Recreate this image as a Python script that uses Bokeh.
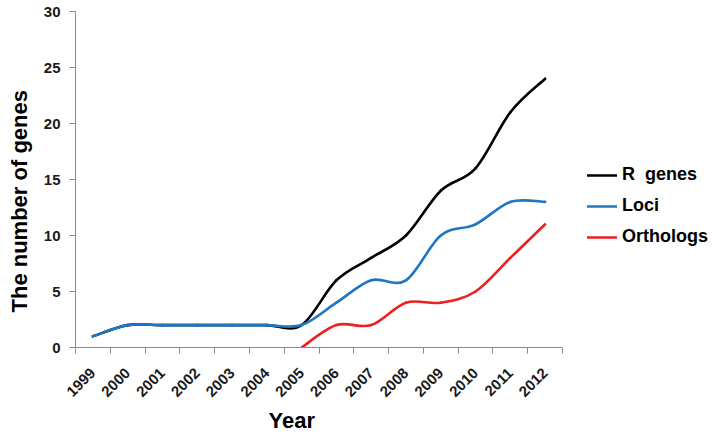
import math
from bokeh.plotting import figure
from bokeh.models import FixedTicker, Legend, LegendItem, ColumnDataSource, Range1d, Title
from bokeh.embed import file_html
from bokeh.resources import INLINE

# ---- data ----
years = ["1999", "2000", "2001", "2002", "2003", "2004", "2005",
         "2006", "2007", "2008", "2009", "2010", "2011", "2012"]
r_genes = [1, 2, 2, 2, 2, 2, 2, 6, 8, 10, 14, 16, 21, 24]
loci = [1, 2, 2, 2, 2, 2, 2, 4, 6, 6, 10, 11, 13, 13]
orthologs = [None, None, None, None, None, None, 0, 2, 2, 4, 4, 5, 8, 11]
y_ticks = [0, 5, 10, 15, 20, 25, 30]

series_names = ["R  genes", "Loci", "Orthologs"]
series_colors = ["#000000", "#1f77c4", "#ee1f1f"]
x_title = "Year"
y_title = "The number of genes"

FONT = "Liberation Sans"


def smooth_segments(values):
    """Catmull-Rom style Bezier segments through the data points (like a smoothed line)."""
    pts = [(i, v) for i, v in enumerate(values) if v is not None]
    d = dict(x0=[], y0=[], x1=[], y1=[], cx0=[], cy0=[], cx1=[], cy1=[])
    n = len(pts)
    for k in range(n - 1):
        p0 = pts[k - 1] if k > 0 else pts[k]
        p1 = pts[k]
        p2 = pts[k + 1]
        p3 = pts[k + 2] if k + 2 < n else pts[k + 1]
        d["x0"].append(p1[0]); d["y0"].append(p1[1])
        d["x1"].append(p2[0]); d["y1"].append(p2[1])
        d["cx0"].append(p1[0] + (p2[0] - p0[0]) / 6.0)
        d["cy0"].append(p1[1] + (p2[1] - p0[1]) / 6.0)
        d["cx1"].append(p2[0] - (p3[0] - p1[0]) / 6.0)
        d["cy1"].append(p2[1] - (p3[1] - p1[1]) / 6.0)
    return ColumnDataSource(d)


p = figure(frame_width=487, frame_height=336, output_backend="svg", toolbar_location=None,
           x_range=Range1d(-0.5, len(years) - 0.5), y_range=Range1d(0, 30),
           min_border_left=75, min_border_top=11, min_border_right=147, min_border_bottom=0)

p.outline_line_color = None
p.xgrid.visible = False
p.ygrid.visible = False
p.background_fill_color = "white"
p.border_fill_color = "white"

items = []
for name, vals, col in zip(series_names, [r_genes, loci, orthologs], series_colors):
    src = smooth_segments(vals)
    r = p.bezier(x0="x0", y0="y0", x1="x1", y1="y1", cx0="cx0", cy0="cy0",
                 cx1="cx1", cy1="cy1", source=src, line_color=col, line_width=2.6,
                 line_cap="round")
    items.append(LegendItem(label=name, renderers=[r]))

# x axis: labels at category centres, tick marks at category boundaries
xa = p.xaxis[0]
xa.ticker = FixedTicker(ticks=list(range(len(years))),
                        minor_ticks=[i - 0.5 for i in range(len(years) + 1)])
xa.major_label_overrides = {i: y for i, y in enumerate(years)}
xa.major_tick_out = 0
xa.major_tick_in = 0
xa.minor_tick_out = 6
xa.minor_tick_in = 0
xa.minor_tick_line_color = "#8c8c8c"
xa.axis_line_color = "#8c8c8c"
xa.major_label_orientation = math.pi / 4
xa.major_label_standoff = 17
xa.major_label_text_font = FONT
xa.major_label_text_font_style = "bold"
xa.major_label_text_font_size = "15px"
xa.major_label_text_color = "#1a1a1a"

ya = p.yaxis[0]
ya.ticker = FixedTicker(ticks=y_ticks)
ya.minor_tick_out = 0
ya.minor_tick_in = 0
ya.major_tick_out = 6
ya.major_tick_in = 0
ya.major_tick_line_color = "#8c8c8c"
ya.axis_line_color = "#8c8c8c"
ya.major_label_standoff = 9
ya.major_label_text_font = FONT
ya.major_label_text_font_style = "bold"
ya.major_label_text_font_size = "15px"
ya.major_label_text_color = "#1a1a1a"

# axis titles as side titles so they can be offset like in the reference
p.add_layout(Title(text=x_title, align="left", offset=193, standoff=2,
                   text_font=FONT, text_font_style="bold", text_font_size="22px",
                   text_color="#000000"), "below")
p.add_layout(Title(text=y_title, align="left", offset=35, standoff=13,
                   vertical_align="top",
                   text_font=FONT, text_font_style="bold", text_font_size="22px",
                   text_color="#000000"), "left")

legend = Legend(items=items, location=(25, 100),
                label_text_font=FONT, label_text_font_style="bold",
                label_text_font_size="18px", label_text_color="#000000",
                glyph_width=30, glyph_height=20, label_height=20,
                label_standoff=5, spacing=10, padding=0, margin=0,
                border_line_color=None, background_fill_alpha=0)
p.add_layout(legend, "right")

open("out.html", "w").write(file_html(p, INLINE))
